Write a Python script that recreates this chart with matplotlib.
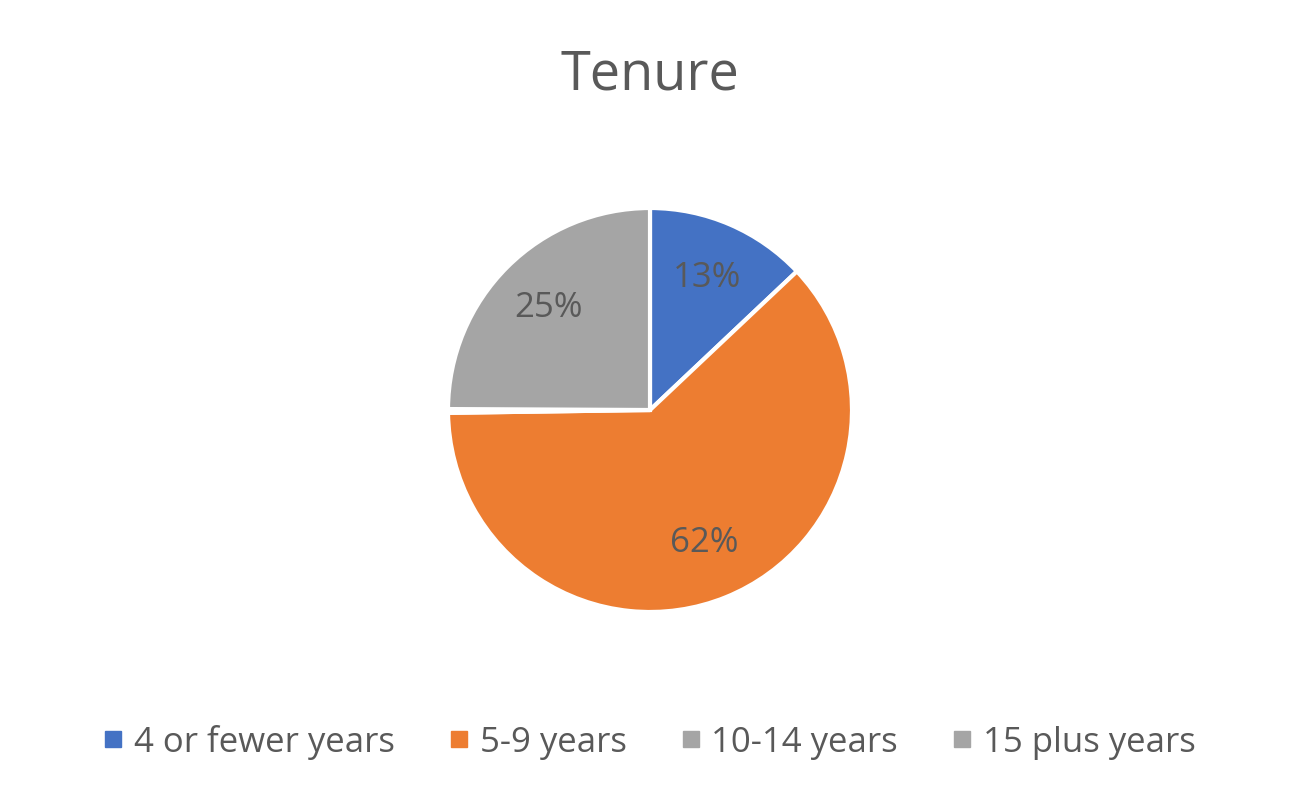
import matplotlib.pyplot as plt
from matplotlib.lines import Line2D

# --- Data ---
categories = ['4 or fewer years', '5-9 years', '10-14 years', '15 plus years']
shares = [13, 62, 0.3, 25]
colors = ['#4472C4', '#ED7D31', '#A5A5A5', '#A5A5A5']
text_color = '#595959'

fig = plt.figure(figsize=(13, 8.08), dpi=100)
fig.patch.set_facecolor('white')

# pie axes: centre ~(650, 410) px, radius ~202 px
ax = fig.add_axes([448 / 1300, (808 - 612) / 808, 404 / 1300, 404 / 808])


def pct_label(p):
    return f'{p:.0f}%' if p > 1 else ''


wedges, texts, autotexts = ax.pie(
    shares, colors=colors, startangle=90, counterclock=False,
    autopct=pct_label, pctdistance=0.71, radius=1,
    wedgeprops=dict(edgecolor='white', linewidth=3),
    textprops=dict(fontsize=25, color=text_color, fontfamily='Open Sans'))
ax.set_xlim(-1, 1)
ax.set_ylim(-1, 1)
ax.set_aspect('equal')
ax.axis('off')

fig.text(0.5, 1 - 75 / 808, 'Tenure', ha='center', va='center',
         fontsize=39, color=text_color, fontfamily='Open Sans')

handles = [Line2D([0], [0], marker='s', linestyle='none', markersize=11,
                  markerfacecolor=c, markeredgecolor=c) for c in colors]
leg = fig.legend(handles, categories, loc='center', ncol=4,
                 bbox_to_anchor=(0.5, 66 / 808), frameon=False,
                 handlelength=0.5, handletextpad=0.35, columnspacing=1.6,
                 prop=dict(size=25, family='Open Sans'))
for t in leg.get_texts():
    t.set_color(text_color)

plt.savefig('out.png', dpi=100, facecolor='white')
plt.close()
